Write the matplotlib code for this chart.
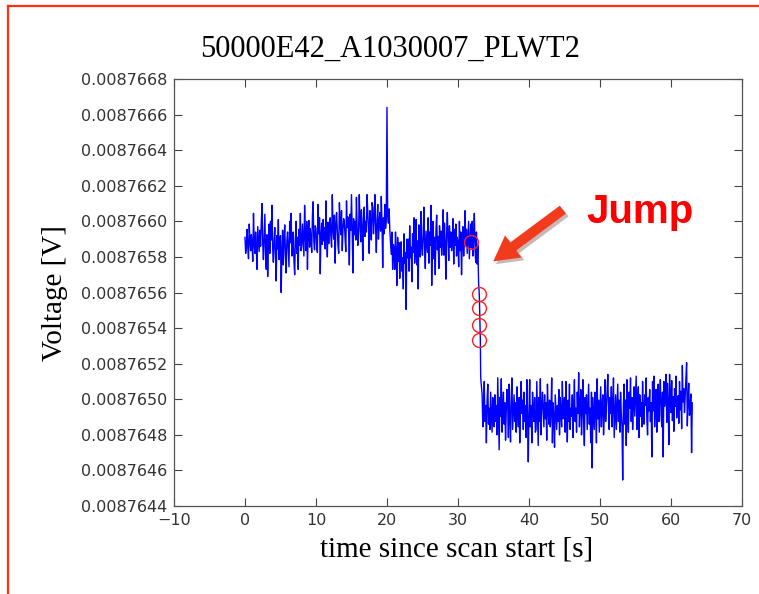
import matplotlib
matplotlib.use("Agg")
import matplotlib.pyplot as plt
from matplotlib.patches import FancyArrowPatch
from matplotlib.lines import Line2D
from matplotlib.ticker import MultipleLocator, FuncFormatter
import matplotlib.patheffects as pe
import numpy as np

# voltage samples as offsets in nV above 0.008764 V
V0 = 0.008764
dt = 0.1

# before the jump: t = 0.0 ... 32.8 s
before_t0 = 0.0
before_nv = [
    1910, 1820, 1865, 1955, 1850, 1790, 1985, 1895, 1835, 1925,
    1865, 1775, 2045, 1880, 1820, 1940, 1850, 1730, 1970, 1895,
    1830, 1950, 1860, 1995, 2100, 1875, 1785, 1905, 2040, 1815,
    1730, 1925, 1690, 1865, 1985, 1820, 2000, 1895, 2090, 1850,
    1770, 1890, 1965, 1800, 1665, 1920, 1845, 2010, 1785, 1875,
    1920, 1600, 1830, 1950, 1755, 1890, 1980, 1815, 1710, 1890,
    1940, 1835, 1745, 2000, 1880, 2045, 1805, 1865, 1940, 1775,
    1700, 1895, 2000, 1820, 1910, 1730, 1955, 1865, 2045, 1835,
    1865, 1985, 1895, 1805, 2090, 1925, 1835, 2000, 1730, 1940,
    2005, 1855, 1960, 1900, 1825, 2035, 2110, 1885, 1840, 1975,
    1960, 1855, 1825, 2095, 1930, 2020, 1705, 1915, 1990, 1870,
    2010, 1890, 1965, 1845, 2115, 1920, 1800, 1995, 1875, 1980,
    2020, 1915, 1855, 2150, 1960, 1900, 2035, 1765, 1975, 2050,
    1955, 1865, 1820, 2105, 2000, 1925, 2060, 1835, 1955, 2015,
    1995, 1905, 1830, 2115, 1965, 2025, 1935, 1755, 2040, 1950,
    2150, 1955, 1710, 2015, 1925, 2000, 1895, 2135, 1955, 1865,
    1945, 2150, 1990, 1885, 2065, 1960, 1780, 2020, 2080, 1915,
    2000, 1940, 2150, 2045, 1970, 1820, 2060, 1985, 1895, 2105,
    2080, 1930, 2020, 2150, 1960, 1825, 2005, 2095, 1900, 1990,
    2050, 1945, 2140, 1990, 1740, 2020, 1930, 2095, 1960, 2005,
    2640, 2030, 1990, 2070, 1950, 1880, 1815, 1940, 1730, 1870,
    1850, 1730, 1940, 1820, 1640, 1910, 1775, 1880, 1680, 1865,
    1885, 1720, 1795, 1620, 1930, 1765, 1825, 1505, 1900, 1795,
    1900, 1720, 1975, 1795, 1855, 1660, 1930, 1825, 2020, 1765,
    1845, 2010, 1755, 1890, 1620, 1980, 1875, 1800, 2055, 1860,
    1810, 1915, 2080, 1855, 1735, 1945, 1885, 1825, 2020, 1765,
    1940, 1865, 2090, 1640, 1880, 2000, 1790, 1910, 1700, 1955,
    2035, 1840, 1915, 1735, 1975, 1855, 1945, 1810, 1885, 2065,
    1810, 1990, 1870, 1675, 1930, 2050, 1900, 1780, 1975, 1855,
    1940, 1835, 1895, 2015, 1760, 1955, 1865, 1985, 1805, 1910,
    1880, 1745, 2000, 1835, 1940, 1700, 1880, 1970, 1805, 1910,
    2060, 1865, 1955, 1820, 1910, 2000, 1790, 1895, 1985, 1850,
    2000, 1805, 1910, 2045, 1850, 1770, 1940, 1760, 1865,
]

# the step itself
jump_t = [32.9, 33.0, 33.05, 33.1, 33.15, 33.2]
jump_nv = [1656, 1589, 1515, 1420, 1335, 1121]

# after the jump: t = 33.4 ... 63.0 s
after_t0 = 33.4
after_nv = [
    1025, 845, 935, 1100, 875, 965,
    755, 995, 1085, 860, 950, 830, 1040, 920, 815, 1010,
    935, 845, 1025, 875, 965, 800, 1121, 920, 716, 1010,
    905, 1115, 815, 950, 1040, 860, 980, 770, 935, 1055,
    965, 785, 1085, 890, 760, 1010, 1120, 830, 935, 1025,
    875, 980, 815, 1070, 935, 845, 1010, 755, 965, 1100,
    920, 995, 830, 1040, 875, 965, 785, 1110, 905, 648,
    920, 1110, 845, 965, 755, 1040, 935, 875, 1010, 815,
    830, 1100, 905, 740, 1010, 875, 1115, 800, 965, 1040,
    935, 845, 1025, 890, 980, 770, 1085, 950, 860, 995,
    845, 935, 1120, 755, 980, 890, 730, 1025, 920, 830,
    965, 875, 1055, 800, 1010, 920, 845, 1100, 890, 980,
    1010, 815, 1100, 905, 760, 995, 875, 1085, 830, 950,
    905, 1025, 785, 965, 1110, 875, 950, 815, 1040, 920,
    1149, 845, 965, 1055, 800, 935, 1110, 875, 740, 1010,
    920, 1025, 830, 965, 1085, 860, 950, 755, 1040, 614,
    1010, 920, 830, 1040, 950, 755, 1115, 890, 995, 815,
    935, 1070, 845, 965, 1025, 800, 905, 1110, 875, 965,
    1040, 1140, 935, 830, 1010, 920, 1070, 845, 965, 1120,
    785, 905, 1025, 830, 950, 1085, 875, 995, 815, 1040,
    920, 845, 546, 965, 1085, 860, 995, 740, 1110, 920,
    815, 1040, 950, 1120, 875, 1010, 830, 965, 1070, 905,
    1010, 1130, 830, 965, 1070, 785, 1025, 905, 980, 845,
    1100, 935, 860, 1025, 965, 1120, 890, 800, 1010, 935,
    1055, 875, 980, 676, 1100, 935, 1130, 845, 1010, 1055,
    815, 965, 1085, 875, 1010, 1110, 920, 845, 1040, 676,
    1100, 960, 1015, 1140, 870, 1090, 970, 745, 1140, 1000,
    925, 1105, 880, 1015, 820, 1060, 960, 1130, 895, 985,
    1020, 865, 1100, 940, 1045, 835, 1190, 985, 1060, 925,
    1015, 1120, 1206, 850, 1000, 1090, 910, 960, 1030, 700,
    980,
]

# points flagged by the jump finder (red circles)
flag_t = [31.8, 33.0, 33.0, 33.0, 33.0]
flag_nv = [1883, 1589, 1515, 1420, 1335]

title = "50000E42_A1030007_PLWT2"
xlabel = "time since scan start [s]"
ylabel = "Voltage [V]"

t = np.concatenate([before_t0 + dt * np.arange(len(before_nv)),
                    jump_t,
                    after_t0 + dt * np.arange(len(after_nv))])
v = V0 + 1e-9 * np.array(before_nv + jump_nv + after_nv, dtype=float)

fig = plt.figure(figsize=(7.59, 5.94), dpi=100)
ax = fig.add_axes([0.2292, 0.1481, 0.7484, 0.7189])

ax.plot(t, v, color="#0000ff", lw=1.0)
ax.plot(flag_t, V0 + 1e-9 * np.array(flag_nv, dtype=float), "o",
        mfc="none", mec="#ff2020", ms=10, mew=1.0)

ax.set_xlim(-10, 70)
ax.set_ylim(0.0087644, 0.0087668)
ax.xaxis.set_major_locator(MultipleLocator(10))
ax.yaxis.set_major_locator(MultipleLocator(0.0000002))
ax.yaxis.set_major_formatter(FuncFormatter(lambda y, p: "%.7f" % y))
ax.tick_params(direction="in", length=6, width=0.8, top=True, right=True,
               labelsize=11.5, labelcolor="#333333", color="#444444", pad=5)
for s in ax.spines.values():
    s.set_color("#555555")
    s.set_linewidth(0.9)

fig.text(0.5138, 0.904, title, ha="center", va="baseline",
         family="Liberation Serif", fontsize=22)
fig.text(0.601, 0.0623, xlabel, ha="center", va="baseline",
         family="Liberation Serif", fontsize=21)
fig.text(0.0725, 0.5067, ylabel, ha="center", va="center", rotation=90,
         family="Liberation Serif", fontsize=21)

# annotation
fig.text(0.8432, 0.6246, "Jump", ha="center", va="baseline", color="#ff0000",
         family="Liberation Sans", fontweight="bold", fontsize=29)
arr = FancyArrowPatch((0.7444, 0.6498), (0.6469, 0.5572), transform=fig.transFigure,
                      arrowstyle="simple,head_length=1.0,head_width=1.1,tail_width=0.4",
                      mutation_scale=18, color="#f23a1c", lw=0)
arr.set_path_effects([pe.SimplePatchShadow(offset=(2, -2), alpha=0.3), pe.Normal()])
fig.add_artist(arr)

# slide frame
fig.add_artist(Line2D([0.0105, 0.0105], [0, 0.9899], transform=fig.transFigure,
                      color="#ff3010", lw=1.6))
fig.add_artist(Line2D([0.0105, 1], [0.9899, 0.9899], transform=fig.transFigure,
                      color="#ff3010", lw=1.6))

fig.savefig("out.png", dpi=100)
